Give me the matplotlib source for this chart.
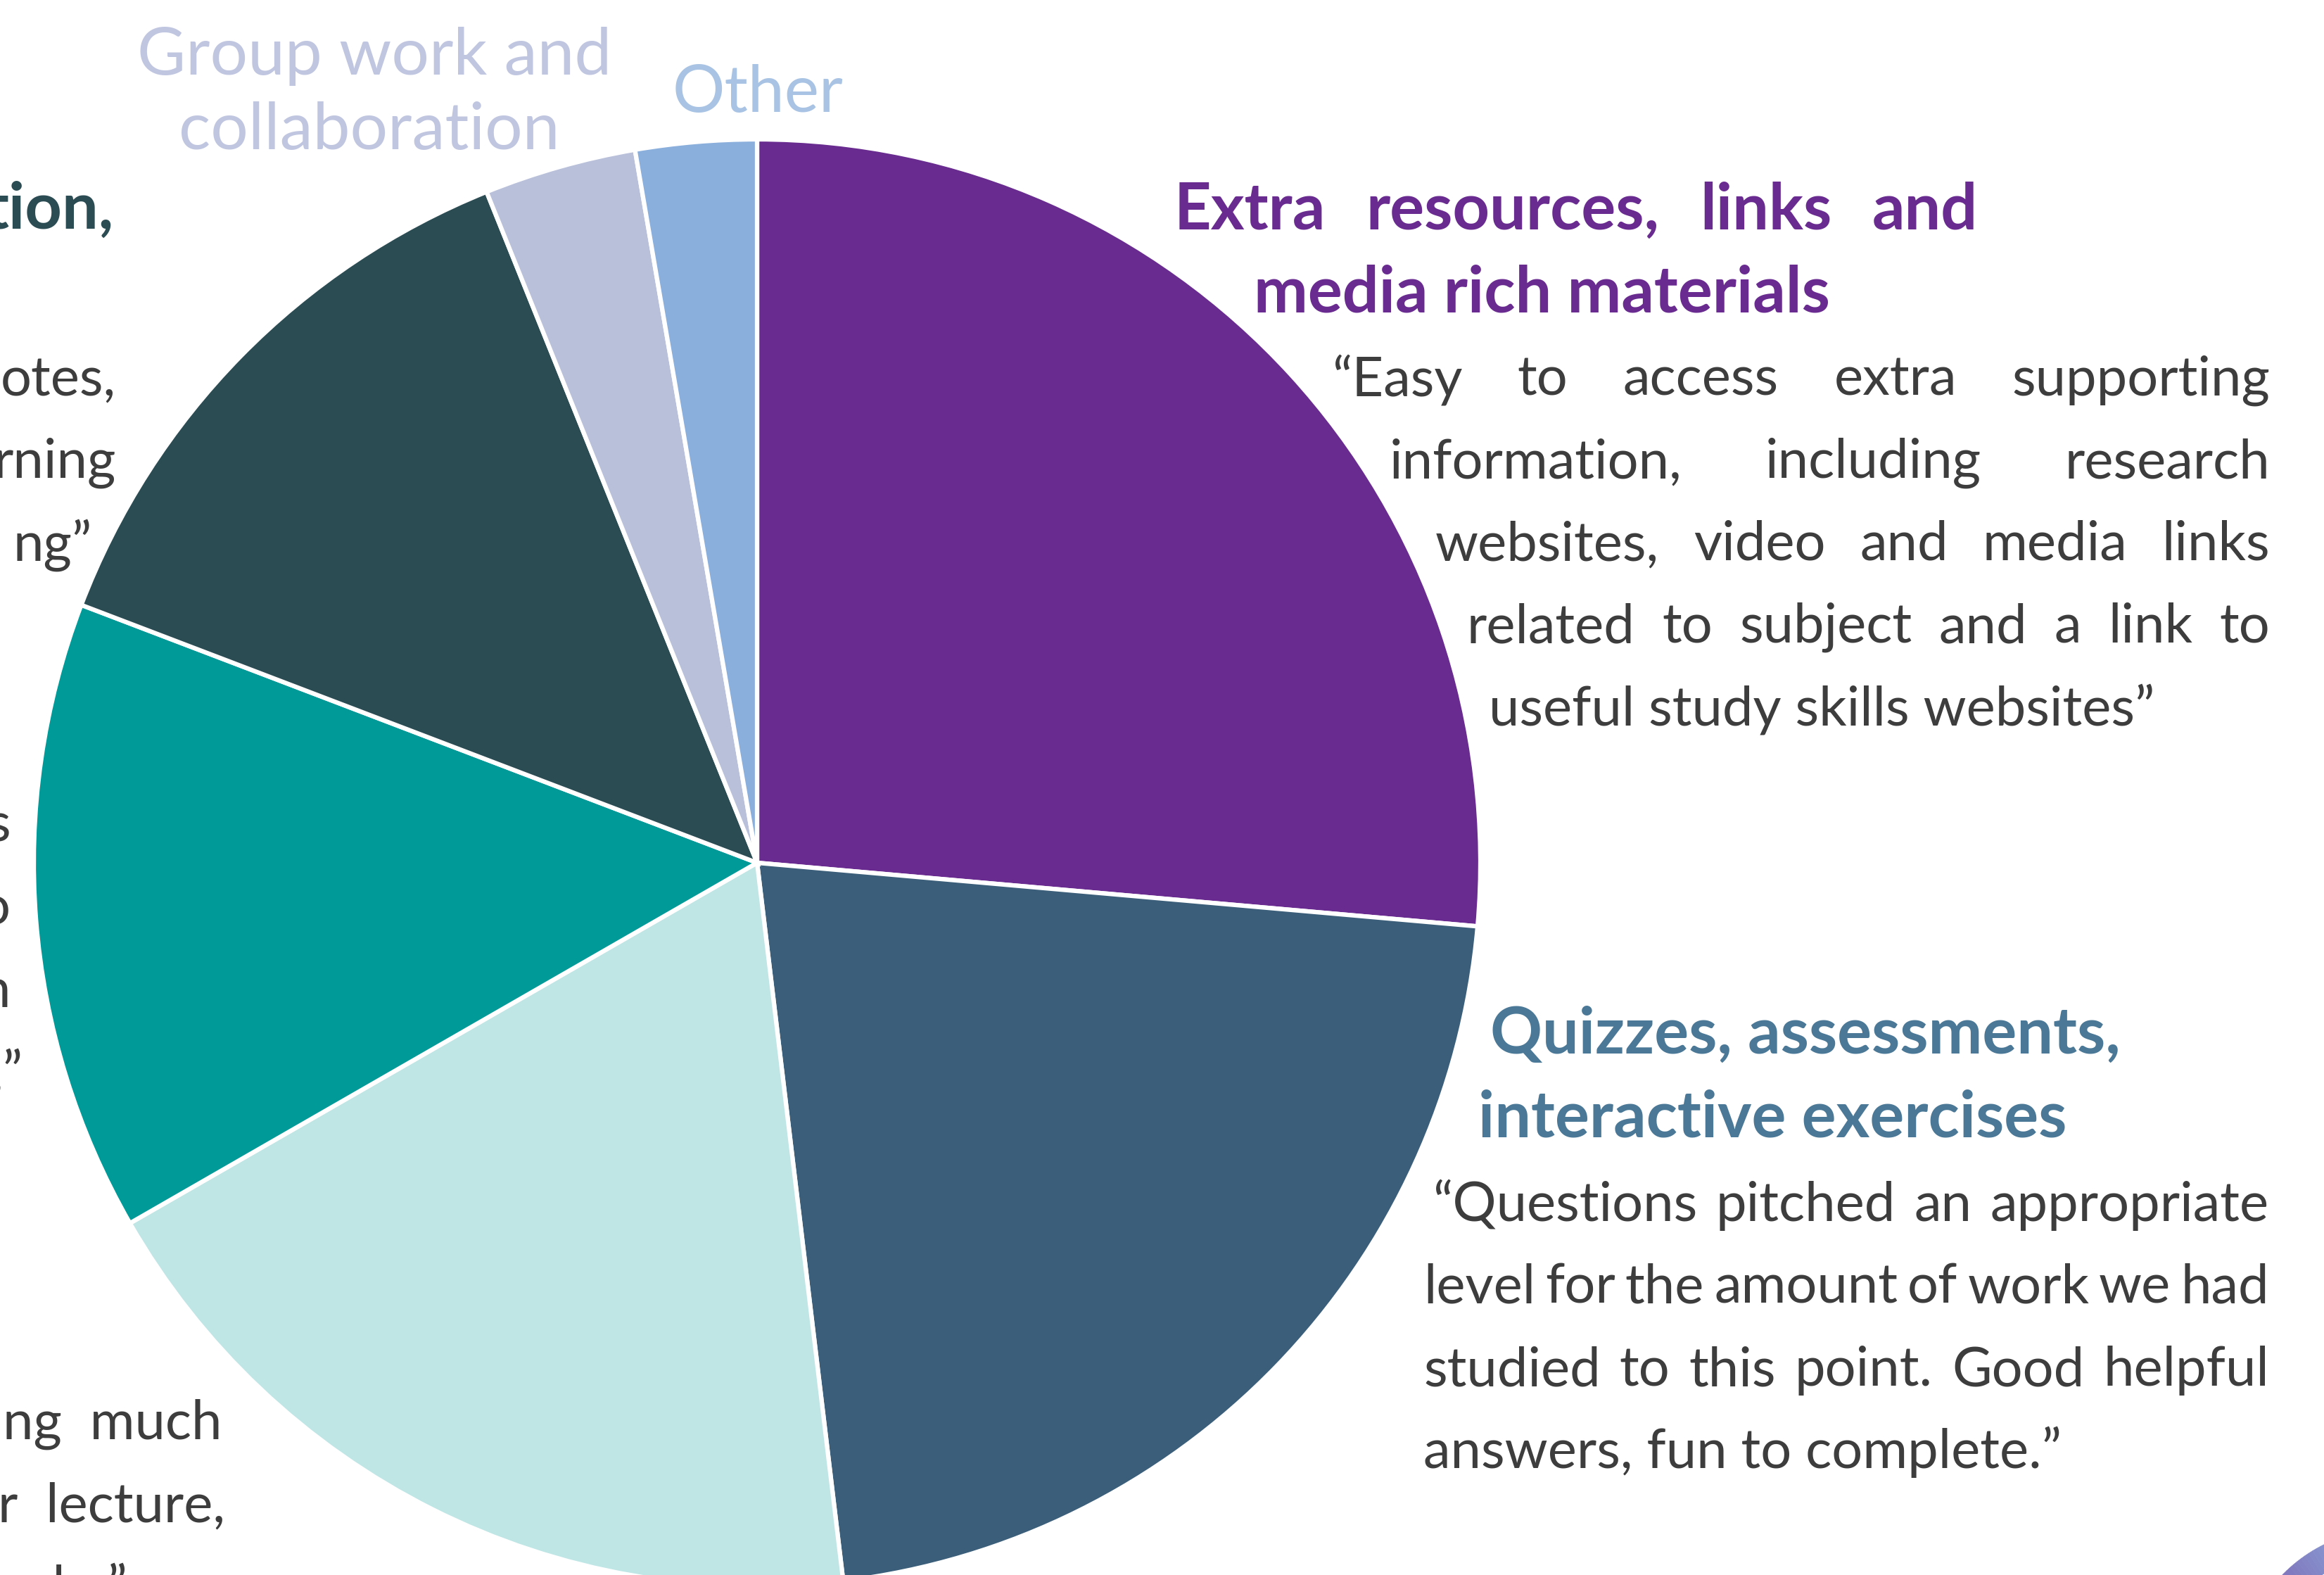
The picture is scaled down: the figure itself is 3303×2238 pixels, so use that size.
import matplotlib
matplotlib.use("Agg")
import matplotlib.pyplot as plt
from matplotlib.patches import Wedge
import numpy as np

W, H = 3303, 2238

# slices, clockwise from 12 o'clock
categories = ["Extra resources, links and media rich materials",
              "Quizzes, assessments, interactive exercises",
              "(light cyan)", "(teal)", "(dark slate)",
              "Group work and collaboration", "Other"]
shares = [26.4, 21.7, 18.6, 14.1, 13.1, 3.4, 2.7]
slice_colors = ["#692B8F", "#3B5F7A", "#BFE5E5", "#009A99", "#2C4C54",
                "#B8C0DA", "#8AAFDC"]

extra_head = ["Extra resources, links and", "media rich materials"]
extra_quote = ["\u201cEasy to access extra supporting",
               "information, including research",
               "websites, video and media links",
               "related to subject and a link to",
               "useful study skills websites\u201d"]
quiz_head = ["Quizzes, assessments,", "interactive exercises"]
quiz_quote = ["\u201cQuestions pitched an appropriate",
              "level for the amount of work we had",
              "studied to this point. Good helpful",
              "answers, fun to complete.\u201d"]

plt.rcParams['font.family'] = ['Lato', 'DejaVu Sans']
TXT = "#3D3D3D"

fig = plt.figure(figsize=(W / 100, H / 100), dpi=100)
ax = fig.add_axes([0, 0, 1, 1])
ax.pie(shares, colors=slice_colors, startangle=90, counterclock=False,
       center=(1076, H - 1226), radius=1028,
       wedgeprops=dict(edgecolor="white", linewidth=4.5))
ax.set_xlim(0, W)
ax.set_ylim(0, H)
ax.set_aspect("auto")
ax.axis("off")

# bit of the gradient ring in the bottom-right corner
c1, c2 = np.array([0.47, 0.30, 0.65]), np.array([0.55, 0.69, 0.87])
n = 40
th = np.linspace(165, 95, n + 1)
for i in range(n):
    col = c1 + (c2 - c1) * i / (n - 1)
    ax.add_patch(Wedge((3400, H - 2390), 218, th[i + 1], th[i], width=36,
                       facecolor=col, edgecolor=col, lw=0.5))

fig.canvas.draw()
rend = fig.canvas.get_renderer()


def put_line(s, x0, yb, x1=None, **kw):
    # yb = baseline measured from top of image
    if x1 is None:
        ax.text(x0, H - yb, s, va="baseline", ha="left", **kw)
        return
    words = s.split()
    ts = [ax.text(0, H - yb, w, va="baseline", ha="left", **kw) for w in words]
    ws = [t.get_window_extent(rend).width for t in ts]
    gap = max((x1 - x0 - sum(ws)) / (len(words) - 1), 8)
    x = x0
    for t, w in zip(ts, ws):
        t.set_x(x)
        x += w + gap


HEAD = dict(fontsize=66, fontweight="bold")
BODY = dict(fontsize=56, color=TXT)

# Extra resources block
put_line(extra_head[0], 1669, 326, 2811, color="#692B8F", **HEAD)
put_line(extra_head[1], 1782, 444, color="#692B8F", **HEAD)
q_left = [1893, 1975, 2040, 2085, 2116]
for i, s in enumerate(extra_quote):
    put_line(s, q_left[i], 562 + 117 * i, 3226 if i < 4 else None, **BODY)

# Quizzes block
put_line(quiz_head[0], 2118, 1497, color="#4A7896", **HEAD)
put_line(quiz_head[1], 2101, 1615, color="#4A7896", **HEAD)
z_left = [2036, 2023, 2023, 2023]
for i, s in enumerate(quiz_quote):
    put_line(s, z_left[i], 1735 + 117 * i, 3225 if i < 3 else None, **BODY)

# small labels at the top
ax.text(532, H - 106, "Group work and", ha="center", va="baseline",
        fontsize=68, color="#C0C6E0")
ax.text(525, H - 212, "collaboration", ha="center", va="baseline",
        fontsize=68, color="#C0C6E0")
ax.text(1077, H - 159, "Other", ha="center", va="baseline",
        fontsize=67, color="#A8C3E3")

# text blocks cut off at the left edge
ax.text(162, H - 325, "tion,", ha="right", va="baseline", color="#2C4C54", **HEAD)
for s, xr, yb in [("otes,", 165, 562), ("rning", 165, 679), ("ng\u201d", 131, 797),
                  ("s", 15, 1196), ("o", 15, 1313), ("n", 15, 1431),
                  (",\u201d", 33, 1548),
                  ("ng  much", 316, 2045), ("r  lecture,", 320, 2162),
                  ("ule.\u201d", 182, 2279)]:
    ax.text(xr, H - yb, s, ha="right", va="baseline", **BODY)

fig.savefig("out.png", dpi=100)
